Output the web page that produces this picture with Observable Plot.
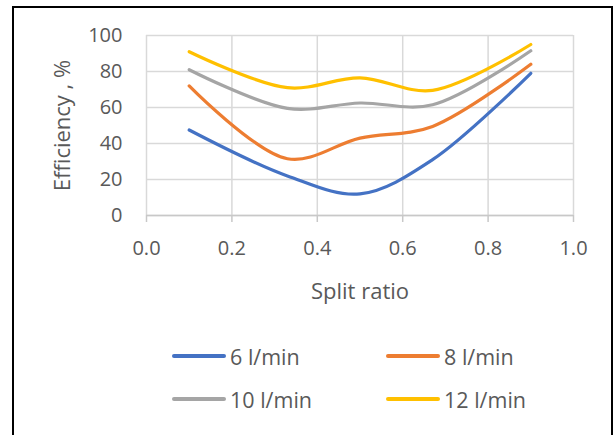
<!DOCTYPE html>
<html>
<head>
<meta charset="utf-8">
<script src="https://cdn.jsdelivr.net/npm/d3@7"></script>
<script src="https://cdn.jsdelivr.net/npm/@observablehq/plot@0.6"></script>
<style>
  html, body { margin: 0; padding: 0; background: #fff; }
  #wrap { position: relative; width: 616px; height: 435px; overflow: hidden; font-family: "Open Sans", sans-serif; }
  #frame { position: absolute; left: 12px; top: 6px; width: 601px; height: 440px; border: 2px solid #000; box-sizing: border-box; }
  #chart { position: absolute; left: 0; top: 0; }
  .leg { position: absolute; display: flex; align-items: center; font-size: 21.5px; color: #595959; white-space: nowrap; }
  .leg .sw { width: 54px; height: 3.5px; margin-right: 4px; border-radius: 2px; }
</style>
</head>
<body>
<div id="wrap">
  <div id="frame"></div>
  <div id="chart"></div>
</div>
<script>
const splitRatio = [0.1, 0.33, 0.5, 0.67, 0.9];
const flow6  = [47.5, 22, 12, 31, 79];
const flow8  = [72, 31.5, 43, 49.5, 84];
const flow10 = [81, 59.5, 62.5, 61.5, 91.5];
const flow12 = [91, 71, 76.5, 69.5, 95];
const seriesNames = ["6 l/min", "8 l/min", "10 l/min", "12 l/min"];
const seriesColors = ["#4472C4", "#ED7D31", "#A5A5A5", "#FFC000"];
const xTicks = [0, 0.2, 0.4, 0.6, 0.8, 1.0];
const yTicks = [0, 20, 40, 60, 80, 100];

const allSeries = [flow6, flow8, flow10, flow12];
const rows = [];
allSeries.forEach((vals, i) => vals.forEach((v, j) => rows.push({x: splitRatio[j], y: v, s: seriesNames[i]})));

const plot = Plot.plot({
  width: 616,
  height: 320,
  marginLeft: 146,
  marginRight: 43,
  marginTop: 35,
  marginBottom: 105,
  style: {fontFamily: "Open Sans, sans-serif", fontSize: "20px", color: "#595959", background: "transparent"},
  x: {domain: [0, 1]},
  y: {domain: [0, 100]},
  color: {domain: seriesNames, range: seriesColors},
  marks: [
    Plot.gridX(xTicks, {stroke: "#d9d9d9", strokeOpacity: 1, strokeWidth: 1.5}),
    Plot.gridY(yTicks, {stroke: "#d9d9d9", strokeOpacity: 1, strokeWidth: 1.5}),
    Plot.ruleY([0], {stroke: "#c8c8c8", strokeWidth: 1.5}),
    Plot.axisX(xTicks, {tickFormat: d => d.toFixed(1), tickSize: 7, tickPadding: 18, stroke: "#c8c8c8", strokeWidth: 1.5, fill: "#595959",
      label: "Split ratio", labelAnchor: "center", labelOffset: 83, labelArrow: "none"}),
    Plot.axisY(yTicks, {tickSize: 0, tickPadding: 24, fill: "#595959",
      label: "Efficiency , %", labelAnchor: "center", labelOffset: 92, labelArrow: "none"}),
    Plot.line(rows, {x: "x", y: "y", stroke: "s", z: "s", curve: "catmull-rom", strokeWidth: 3.2, strokeLinecap: "round", strokeLinejoin: "round"})
  ]
});
d3.select(plot).selectAll('g[aria-label="x-axis label"], g[aria-label="y-axis label"]').attr("font-size", 22);
document.getElementById("chart").appendChild(plot);

const legPos = [[172, 356], [386, 356], [172, 399], [386, 399]];
seriesNames.forEach((name, i) => {
  const d = document.createElement("div");
  d.className = "leg";
  d.style.left = legPos[i][0] + "px";
  d.style.top = (legPos[i][1] - 15) + "px";
  d.style.height = "30px";
  const sw = document.createElement("div");
  sw.className = "sw";
  sw.style.background = seriesColors[i];
  const t = document.createElement("span");
  t.textContent = name;
  d.appendChild(sw);
  d.appendChild(t);
  document.getElementById("wrap").appendChild(d);
});
</script>
</body>
</html>
